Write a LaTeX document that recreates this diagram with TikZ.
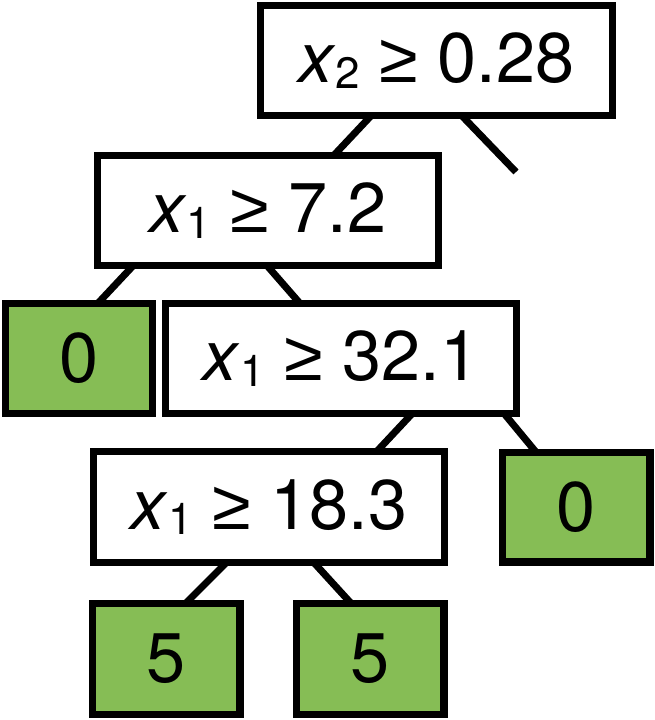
\documentclass[tikz,border=0pt]{standalone}
\usepackage{fontspec}
\setmainfont{TeX Gyre Heros}
\newfontfamily\relfont{Liberation Sans}
\usepackage{tikz}
\usetikzlibrary{calc}
\definecolor{leafgreen}{HTML}{86BD55}
\definecolor{treeink}{HTML}{000000}
\newcommand{\xs}[1]{\textit{x}\raisebox{-0.08em}{\fontsize{25}{25}\selectfont #1}}
\newcommand{\geqsign}{{\relfont ≥}}
\tikzset{
  split/.style={draw=treeink, fill=white, line width=4pt, minimum height=2.2cm,
    inner sep=0pt, font=\fontsize{40}{48}\selectfont, text=treeink},
  leaf/.style={split, fill=leafgreen, minimum width=2.96cm},
  branch/.style={draw=treeink, line width=4pt, shorten <=-2pt, shorten >=-2pt}
}

\begin{document}
\begin{tikzpicture}[x=0.02cm, y=-0.02cm]
\useasboundingbox (0,0) rectangle (654,720);
\node[split, minimum width=7.04cm] (n028) at (436.5,60.5) {\xs{2} \geqsign{} 0.28};
\node[split, minimum width=6.82cm] (n72) at (268,210.5) {\xs{1} \geqsign{} 7.2};
\node[leaf, minimum width=2.94cm] (l0a) at (79,358.5) {0};
\node[split, minimum width=7.02cm] (n321) at (341,358.5) {\xs{1} \geqsign{} 32.1};
\node[split, minimum width=7.02cm, minimum height=2.22cm] (n183) at (269,507) {\xs{1} \geqsign{} 18.3};
\node[leaf] (l0b) at (576,507) {0};
\node[leaf, minimum height=2.22cm] (l5a) at (166,659) {5};
\node[leaf, minimum height=2.22cm] (l5b) at (370,659) {5};
\coordinate (cut) at (516,172);
% branches
\draw[branch] ([xshift=-1.37cm]n028.south) -- ([xshift=1.38cm]n72.north);
\draw[branch, shorten >=0pt] ([xshift=0.57cm]n028.south) -- (cut);
\draw[branch] ([xshift=-2.76cm]n72.south) -- ([xshift=0.44cm]l0a.north);
\draw[branch] ([xshift=0.04cm]n72.south) -- ([xshift=-0.88cm]n321.north);
\draw[branch] ([xshift=1.36cm]n321.south) -- ([xshift=2.22cm]n183.north);
\draw[branch] ([xshift=3.32cm]n321.south) -- ([xshift=-0.86cm]l0b.north);
\draw[branch] ([xshift=-0.92cm]n183.south) -- ([xshift=0.46cm]l5a.north);
\draw[branch] ([xshift=0.96cm]n183.south) -- ([xshift=-0.44cm]l5b.north);
\end{tikzpicture}
\end{document}
